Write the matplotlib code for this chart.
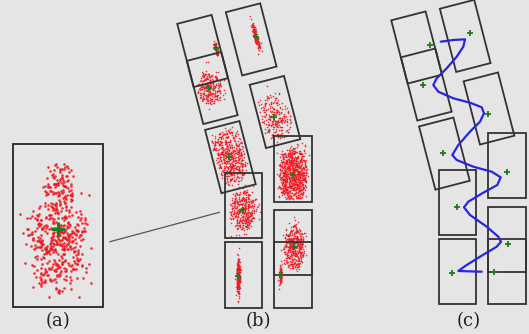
import numpy as np
import matplotlib
matplotlib.use('Agg')
import matplotlib.pyplot as plt
from matplotlib.patches import Polygon
from matplotlib.path import Path

W, H = 529, 334
BG = '#e5e5e5'
EDGE = '#333333'
RED = '#ee1c24'
GREEN = '#1d7a1d'
BLUE = '#2626e0'

# ---- panel (b) boxes (pixel coordinates of the picture) ----
box_cx = [202.6, 212.3, 251.2, 275.0, 230.4, 293.0, 243.5, 243.5, 293.0, 293.0]
box_cy = [51.0, 88.0, 39.4, 112.0, 157.1, 169.0, 205.7, 275.0, 242.7, 275.0]
box_angle = [14.5, 14.5, 14.5, 14.5, 14.5, 0, 0, 0, 0, 0]
box_w = [35.5, 35.5, 35.5, 35.5, 35.5, 37.4, 37.4, 37.4, 37.4, 37.4]
box_h = [65.3] * 10

# particle-cloud estimates (centre = green cross)
cross_x = [215.7, 209.3, 255.7, 274.0, 229.0, 292.7, 242.7, 238.3, 294.3, 280.3]
cross_y = [48.3, 88.3, 36.7, 117.3, 156.7, 175.0, 210.0, 276.0, 247.3, 275.3]
cloud_sx = [0.9, 6.5, 1.1, 8.5, 10.0, 7.5, 6.5, 1.0, 5.5, 0.8]
cloud_sy = [4.0, 8.5, 7.5, 12.0, 14.0, 14.5, 11.0, 9.5, 11.5, 4.5]
cloud_n = [60, 260, 130, 260, 600, 900, 380, 220, 420, 80]

# panel (c) is the same set of boxes shifted
c_dx, c_dy = 214.0, -3.5

# trajectory in panel (c)
traj_x = [440.7, 453.3, 465.0, 463.3, 456.7, 446.7, 436.7, 433.3, 438.3, 453.3,
          470.0, 481.7, 484.0, 480.0, 473.3, 470.0, 458.3, 452.3, 456.7, 473.3,
          491.7, 500.7, 497.3, 483.3, 468.3, 464.0, 470.0, 486.7, 498.3, 501.0,
          496.7, 480.0, 466.7, 458.3, 481.7]
traj_y = [41.7, 40.0, 39.3, 46.7, 56.7, 68.3, 78.3, 85.0, 91.7, 98.3,
          102.7, 107.3, 113.3, 121.7, 128.3, 131.7, 145.0, 155.0, 160.0, 166.7,
          171.7, 177.3, 185.0, 192.7, 201.7, 207.3, 215.0, 226.7, 236.7, 241.7,
          246.7, 256.7, 265.0, 271.0, 271.7]

# ---- panel (a): enlarged box ----
a_cx, a_cy, a_w, a_h = 58.0, 225.1, 90.6, 163.2
a_cross = (57.7, 229.3)
a_comp_x = [60.0, 57.0, 57.0]
a_comp_y = [187.0, 226.0, 260.0]
a_comp_sx = [8.0, 16.0, 14.0]
a_comp_sy = [13.0, 14.0, 17.0]
a_comp_n = [110, 210, 220]

link_x = [110.0, 219.3]
link_y = [241.7, 212.3]

labels = ['(a)', '(b)', '(c)']
label_x = [58.0, 258.0, 469.0]
label_y = [321.0, 321.0, 321.0]


def corners(cx, cy, ang, w, h):
    t = np.deg2rad(ang)
    c, s = np.cos(t), np.sin(t)
    uv = np.array([[-w / 2, -h / 2], [w / 2, -h / 2], [w / 2, h / 2], [-w / 2, h / 2]])
    xs = cx + uv[:, 0] * c + uv[:, 1] * s
    ys = cy - uv[:, 0] * s + uv[:, 1] * c
    return np.column_stack([xs, ys])


def particles(rng, sx, sy, n, frac_gauss=0.5):
    # part gaussian, part flat inside an ellipse -> flat-topped particle cloud
    n1 = int(n * frac_gauss)
    n2 = n - n1
    u1 = rng.normal(0, sx, n1)
    v1 = rng.normal(0, sy, n1)
    r = np.sqrt(rng.uniform(0, 1, n2))
    a = rng.uniform(0, 2 * np.pi, n2)
    u2 = 1.9 * sx * r * np.cos(a)
    v2 = 1.9 * sy * r * np.sin(a)
    return np.concatenate([u1, u2]), np.concatenate([v1, v2])


fig = plt.figure(figsize=(W / 100, H / 100), dpi=100)
fig.patch.set_facecolor(BG)
ax = fig.add_axes([0, 0, 1, 1])
ax.set_facecolor(BG)
ax.set_xlim(0, W)
ax.set_ylim(H, 0)
ax.axis('off')

rng = np.random.default_rng(11)

# panel (a)
a_poly = corners(a_cx, a_cy, 0, a_w, a_h)
a_path = Path(a_poly)
pts = []
for x0, y0, sx, sy, n in zip(a_comp_x, a_comp_y, a_comp_sx, a_comp_sy, a_comp_n):
    u, v = particles(rng, sx, sy, n, frac_gauss=0.5)
    pts.append(np.column_stack([x0 + u, y0 + v]))
pts = np.vstack(pts)
pts = pts[a_path.contains_points(pts, radius=-10)]
pts = pts[(pts[:, 1] > 155) & (pts[:, 1] < 299)]
ax.scatter(pts[:, 0], pts[:, 1], s=3.5, c=RED, linewidths=0, alpha=0.9, zorder=2)
ax.add_patch(Polygon(a_poly, closed=True, fill=False, ec=EDGE, lw=1.4, zorder=3))
ax.plot([a_cross[0]], [a_cross[1]], marker='+', ms=10, mew=2.2, color=GREEN, zorder=4)

ax.plot(link_x, link_y, color='#555555', lw=0.9, zorder=2)

# panel (b) clouds
for i in range(len(box_cx)):
    t = np.deg2rad(box_angle[i])
    u, v = particles(rng, cloud_sx[i], cloud_sy[i], cloud_n[i])
    xs = cross_x[i] + u * np.cos(t) + v * np.sin(t)
    ys = cross_y[i] - u * np.sin(t) + v * np.cos(t)
    poly = corners(box_cx[i], box_cy[i], box_angle[i], box_w[i], box_h[i])
    keep = Path(poly).contains_points(np.column_stack([xs, ys]), radius=-5)
    ax.scatter(xs[keep], ys[keep], s=1.3, c=RED, linewidths=0, alpha=0.9, zorder=2)

# boxes in (b) and (c)
for dx, dy in [(0.0, 0.0), (c_dx, c_dy)]:
    for i in range(len(box_cx)):
        poly = corners(box_cx[i] + dx, box_cy[i] + dy, box_angle[i], box_w[i], box_h[i])
        ax.add_patch(Polygon(poly, closed=True, fill=False, ec=EDGE, lw=1.3, zorder=3))

# trajectory in (c)
ax.plot(traj_x, traj_y, color=BLUE, lw=1.6, solid_capstyle='round',
        solid_joinstyle='round', zorder=4)

# crosses
for dx, dy in [(0.0, 0.0), (c_dx, c_dy)]:
    ax.plot(np.array(cross_x) + dx, np.array(cross_y) + dy, ls='none', marker='+',
            ms=5, mew=1.3, color=GREEN, zorder=5)

for lab, lx, ly in zip(labels, label_x, label_y):
    ax.text(lx, ly, lab, ha='center', va='center', fontsize=13,
            family='DejaVu Serif', color='#222222')

fig.savefig('out.png', dpi=100, facecolor=BG)
